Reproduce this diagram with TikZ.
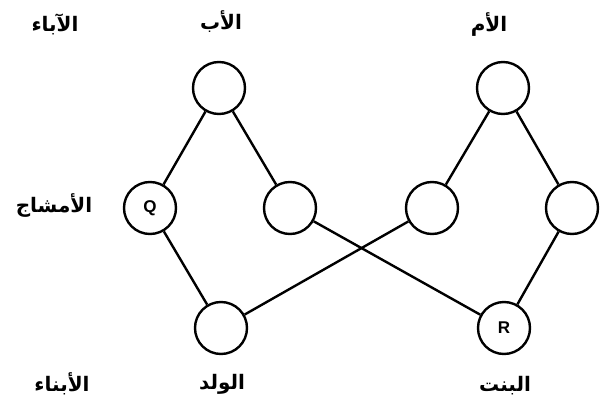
\documentclass[tikz,border=0pt]{standalone}
\usepackage{fontspec}
\setmainfont{Liberation Sans}
\newfontfamily\arabicfont[Script=Arabic,BoldFont={DejaVu Sans Bold}]{DejaVu Sans}
\TeXXeTstate=1
\tikzset{
  cell/.style = {draw, circle, line width=2.4pt, minimum size=52pt, inner sep=0pt, font=\bfseries\fontsize{17}{19}\selectfont},
  link/.style = {line width=2.4pt},
  tag/.style = {font=\arabicfont\bfseries\fontsize{20}{24}\selectfont, inner sep=0pt}
}
\begin{document}
\begin{tikzpicture}[x=1pt, y=-1pt]
\useasboundingbox (0,0) rectangle (600,404);
% row labels
\draw(55,24) node[tag] (parents) {\beginR الآباء\endR};
\draw(54,205) node[tag] (gametes) {\beginR الأمشاج\endR};
\draw(62,384) node[tag] (children) {\beginR الأبناء\endR};
% father side
\draw(221,22) node[tag] (fatherlbl) {\beginR الأب\endR};
\draw(219,88) node[cell] (father) {};
\draw(150,208) node[cell] (q) {Q}; \draw[link] (father) -- (q);
\draw(290,208) node[cell] (fg) {}; \draw[link] (father) -- (fg);
% mother side
\draw(489,24) node[tag] (motherlbl) {\beginR الأم\endR};
\draw(503,88) node[cell] (mother) {};
\draw(432,208) node[cell] (mg) {}; \draw[link] (mother) -- (mg);
\draw(572,208) node[cell] (r0) {}; \draw[link] (mother) -- (r0);
% children
\draw(221,328) node[cell] (son) {};
\draw[link] (q) -- (son); \draw[link] (mg) -- (son);
\draw(504,328) node[cell] (r) {R};
\draw[link] (fg) -- (r); \draw[link] (r0) -- (r);
\draw(222,384) node[tag] (sonlbl) {\beginR الولد\endR};
\draw(505,386) node[tag] (daughterlbl) {\beginR البنت\endR};
\end{tikzpicture}
\end{document}
